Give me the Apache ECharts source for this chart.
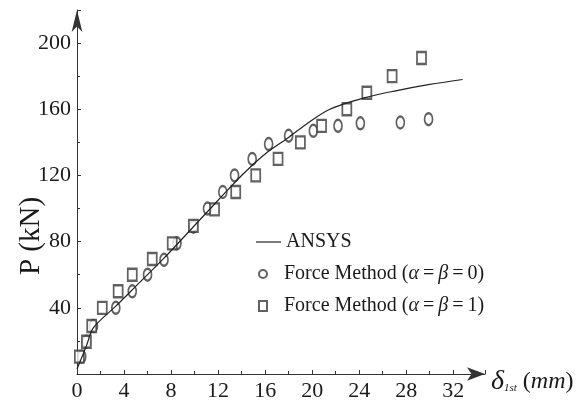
<!DOCTYPE html>
<html>
<head>
<meta charset="utf-8">
<script src="https://cdn.jsdelivr.net/npm/echarts@6/dist/echarts.min.js"></script>
<style>
  html, body { margin: 0; padding: 0; background: #fff; }
  #chart { width: 581px; height: 406px; }
</style>
</head>
<body>
<div id="chart"></div>
<script>
// ANSYS curve (delta, P)
const ansysX = [0, 0.8, 1.4, 3.3, 5.0, 7.4, 9.9, 12.0, 14.0, 16.0, 18.0, 19.5, 21.5, 24.5, 27.0, 30.0, 32.8];
const ansysY = [3, 17, 28, 41, 53, 70, 89, 105, 120, 133, 143, 151, 160, 167, 171, 175, 178];

// Force Method (alpha = beta = 0) -> circles
const fm0X = [0.4, 0.8, 1.4, 3.3, 4.7, 6.0, 7.4, 8.5, 9.9, 11.1, 12.4, 13.4, 14.9, 16.3, 18.0, 20.1, 22.2, 24.1, 27.5, 29.9];
const fm0Y = [10.5, 19.5, 29, 40, 50, 60, 69, 79, 89, 100, 110, 120, 130, 139, 144, 147, 150, 151.5, 152, 154];

// Force Method (alpha = beta = 1) -> squares
const fm1X = [0.2, 0.8, 1.25, 2.15, 3.5, 4.7, 6.4, 8.1, 9.9, 11.7, 13.5, 15.2, 17.1, 19.0, 20.8, 22.95, 24.65, 26.8, 29.3];
const fm1Y = [10.5, 19.5, 29, 40, 50, 60, 69.5, 79, 89.5, 99.5, 110, 120, 130, 140, 150, 160, 170, 180, 191];

const seriesNames = ['ANSYS', 'Force Method (α=β=0)', 'Force Method (α=β=1)'];

const zip = (xs, ys) => xs.map((x, i) => [x, ys[i]]);

const chart = echarts.init(document.getElementById('chart'));

const serif = '"Liberation Serif", "Times New Roman", serif';
const ink = '#1a1a1a';

function legendFmt(name) {
    if (name === 'ANSYS') return name;
    const v = name.indexOf('=0') >= 0 ? '0' : '1';
    return '{s|}Force Method ({g|α}\u2009=\u2009{g|β}\u2009=\u2009' + v + ')';
}
const legendRich = {
    s: { width: 12 },
    g: { fontStyle: 'italic', fontSize: 20, fontFamily: serif, color: ink }
};
const legendText = { fontFamily: serif, fontSize: 20, color: ink, rich: legendRich };

const option = {
    backgroundColor: '#fff',
    animation: false,
    grid: { left: 77, right: 96, top: 10, bottom: 32, containLabel: false, outerBoundsMode: 'none' },
    legend: [
        {
            data: [{ name: seriesNames[0], icon: 'rect' }], left: 251, top: 227, itemWidth: 25, itemHeight: 1.2,
            textStyle: legendText, formatter: legendFmt
        },
        {
            data: [seriesNames[1]], left: 253, top: 259, itemWidth: 8, itemHeight: 11,
            textStyle: legendText, formatter: legendFmt
        },
        {
            data: [seriesNames[2]], left: 253, top: 291, itemWidth: 8, itemHeight: 10,
            textStyle: legendText, formatter: legendFmt
        }
    ],
    xAxis: {
        type: 'value',
        min: 0,
        max: 34.7,
        interval: 4,
        splitLine: { show: false },
        axisLine: {
            lineStyle: { color: '#333', width: 1 },
            symbol: ['none', 'arrow'],
            symbolSize: [10, 18]
        },
        axisTick: { inside: true, length: 4, lineStyle: { color: '#333' } },
        minorTick: { show: true, splitNumber: 2, length: 3, lineStyle: { color: '#333' } },
        axisLabel: {
            showMaxLabel: false,
            margin: 6,
            fontFamily: serif, fontSize: 22, color: ink
        },
        name: '{d|δ}{s|1st}{p| (}{m|mm}{p|)}',
        nameLocation: 'end',
        nameGap: 6,
        nameTextStyle: {
            padding: [16, 0, 0, 0],
            rich: {
                d: { fontFamily: serif, fontStyle: 'italic', fontSize: 28, color: ink },
                s: { fontFamily: serif, fontStyle: 'italic', fontSize: 11, color: ink, padding: [12, 0, 0, 0] },
                p: { fontFamily: serif, fontSize: 24, color: ink },
                m: { fontFamily: serif, fontStyle: 'italic', fontSize: 24, color: ink }
            }
        }
    },
    yAxis: {
        type: 'value',
        min: 0,
        max: 220,
        interval: 40,
        splitLine: { show: false },
        axisLine: {
            lineStyle: { color: '#333', width: 1 },
            symbol: ['none', 'arrow'],
            symbolSize: [8, 22]
        },
        axisTick: { inside: true, length: 4, lineStyle: { color: '#333' } },
        minorTick: { show: true, splitNumber: 2, length: 3, lineStyle: { color: '#333' } },
        axisLabel: {
            showMinLabel: false,
            showMaxLabel: false,
            margin: 6,
            fontFamily: serif, fontSize: 22, color: ink
        }
    },
    graphic: [
        {
            type: 'text',
            x: 31, y: 236,
            rotation: Math.PI / 2,
            style: {
                text: 'P (kN)',
                fontFamily: serif, fontSize: 29, fill: ink,
                align: 'center', verticalAlign: 'middle'
            }
        }
    ],
    series: [
        {
            name: seriesNames[0],
            type: 'line',
            data: zip(ansysX, ansysY),
            symbol: 'none',
            smooth: 0.3,
            lineStyle: { color: '#222', width: 1.2 },
            itemStyle: { color: '#222' }
        },
        {
            name: seriesNames[1],
            type: 'scatter',
            data: zip(fm0X, fm0Y),
            symbol: 'emptyCircle',
            symbolSize: [8, 12],
            itemStyle: { color: '#3a3a3a', borderWidth: 1 }
        },
        {
            name: seriesNames[2],
            type: 'scatter',
            data: zip(fm1X, fm1Y),
            symbol: 'emptyRect',
            symbolSize: [9, 12],
            itemStyle: { color: '#3a3a3a', borderWidth: 1 }
        }
    ]
};

chart.setOption(option);
</script>
</body>
</html>
